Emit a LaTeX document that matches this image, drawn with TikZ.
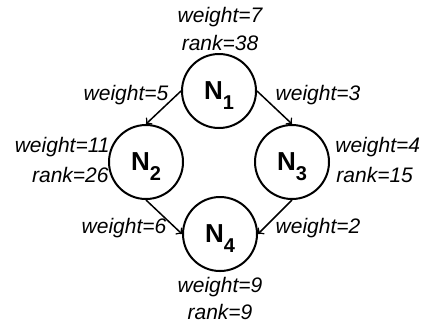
\documentclass[tikz,border=0pt]{standalone}
\usepackage{fontspec}
\setmainfont{Liberation Sans}
\newcommand{\nsub}[1]{\raisebox{-5pt}[0pt][0pt]{\fontsize{10}{10}\selectfont #1}}
\begin{document}
\begin{tikzpicture}[x=0.5pt,y=0.5pt,
    vertex/.style={draw, circle, line width=1pt, minimum size=37pt, inner sep=0pt,
        font=\fontsize{13}{13}\selectfont\bfseries},
    lbl/.style={inner sep=0pt, font=\fontsize{10.5}{12}\selectfont\itshape},
    edge/.style={->, line width=0.75pt}]
    \useasboundingbox (0,0) rectangle (421,329);
    % Nodes
    \node[vertex] (n1) at (219,238) {N\nsub{1}};
    \node[vertex] (n2) at (146,167) {N\nsub{2}};
    \node[vertex] (n3) at (292,167) {N\nsub{3}};
    \node[vertex] (n4) at (220,95) {N\nsub{4}};

    % Edges
    \draw[edge] (n1.west) -- (n2.north);
    \draw[edge] (n1.east) -- (n3.north);
    \draw[edge] (n2.south) -- (n4.west);
    \draw[edge] (n3.south) -- (n4.east);

    % Edge weights
    \node[lbl] (w12) at (126,234) {weight=5};
    \node[lbl] (w13) at (318,234) {weight=3};
    \node[lbl] (w24) at (124,101) {weight=6};
    \node[lbl] (w34) at (318,101) {weight=2};

    % Node weights and ranks
    \node[lbl] (w1) at (220,312) {weight=7};
    \node[lbl] (r1) at (220,286) {rank=38};
    \node[lbl, anchor=east] (w2) at (110,182) {weight=11};
    \node[lbl, anchor=east] (r2) at (109,154) {rank=26};
    \node[lbl, anchor=west] (w3) at (335,182) {weight=4};
    \node[lbl, anchor=west] (r3) at (336,154) {rank=15};
    \node[lbl] (w4) at (220,42) {weight=9};
    \node[lbl] (r4) at (220,17) {rank=9};
\end{tikzpicture}
\end{document}
